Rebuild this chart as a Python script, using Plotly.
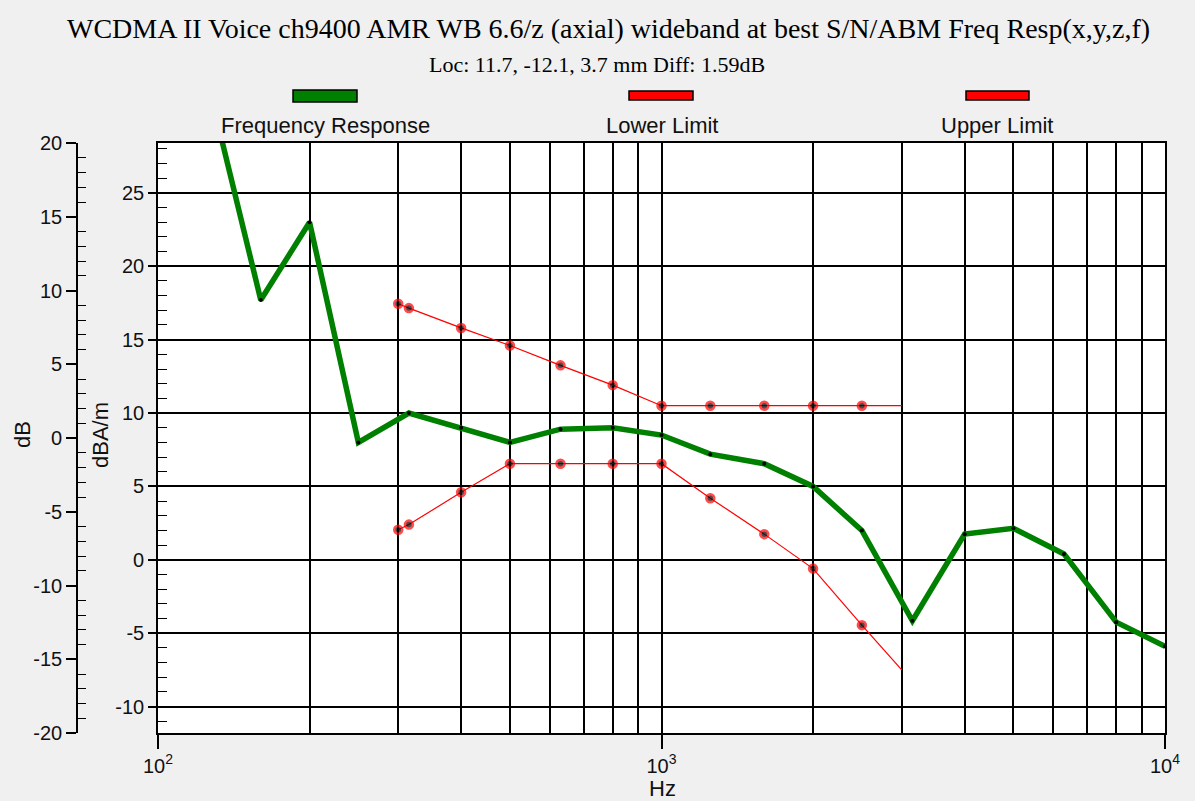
import plotly.graph_objects as go

# ---- data ----
freq_resp_hz = [125, 160, 200, 250, 315, 400, 500, 630, 800, 1000, 1250, 1600,
                2000, 2500, 3150, 4000, 5000, 6300, 8000, 10000]
freq_resp_db = [32.8, 17.7, 23.0, 8.0, 10.0, 9.0, 8.0, 8.9, 9.0, 8.5, 7.2, 6.55,
                5.0, 2.0, -4.15, 1.75, 2.15, 0.4, -4.25, -5.9]
limit_hz = [300, 315, 400, 500, 630, 800, 1000, 1250, 1600, 2000, 2500, 3000]
lower_db = [2.05, 2.4, 4.6, 6.55, 6.55, 6.55, 6.55, 4.2, 1.75, -0.6, -4.45, -7.5]
upper_db = [17.45, 17.15, 15.8, 14.6, 13.25, 11.9, 10.5, 10.5, 10.5, 10.5, 10.5, 10.5]

title_text = "WCDMA II Voice ch9400 AMR WB 6.6/z (axial) wideband at best S/N/ABM Freq Resp(x,y,z,f)"
subtitle_text = "Loc: 11.7, -12.1, 3.7 mm Diff: 1.59dB"
legend_names = ["Frequency Response", "Lower Limit", "Upper Limit"]
x_major = [100, 1000, 10000]
x_major_text = ["10<sup>2</sup>", "10<sup>3</sup>", "10<sup>4</sup>"]
x_minor = [m * d for d in (100, 1000) for m in range(2, 10)]
y_inner_ticks = [-10, -5, 0, 5, 10, 15, 20, 25]
y_outer_ticks = [-20, -15, -10, -5, 0, 5, 10, 15, 20]

# ---- geometry ----
W, H = 1195, 801
L, R, T, B = 70, 30, 143, 68
PW, PH = W - L - R, H - T - B


def px(x):
    return (x - L) / PW


def py(y):
    return (H - B - y) / PH


SANS = "Liberation Sans"
SERIF = "Liberation Serif"
TXT = "#111111"
tickfont = dict(family=SANS, size=20, color=TXT)

fig = go.Figure()

# limits
marker_sizes = [8] * (len(limit_hz) - 1) + [0]
for name, vals in ((legend_names[1], lower_db), (legend_names[2], upper_db)):
    fig.add_trace(go.Scatter(
        x=limit_hz, y=vals, mode="lines+markers", name=name,
        line=dict(color="#ff0000", width=1.2),
        marker=dict(size=marker_sizes, color="black", line=dict(color="#ff0000", width=2.5)),
        showlegend=False))

fig.add_trace(go.Scatter(
    x=freq_resp_hz, y=freq_resp_db, mode="lines+markers", name=legend_names[0],
    line=dict(color="#008000", width=5.5),
    marker=dict(size=4, color="black"),
    showlegend=False))

# dummy trace to keep the outer dB axis alive
fig.add_trace(go.Scatter(x=[None], y=[None], yaxis="y2", showlegend=False, hoverinfo="skip"))


def minor_vals(lo, hi):
    return [v for v in range(lo, hi + 1) if v % 5 != 0]


fig.update_layout(
    width=W, height=H,
    margin=dict(l=L, r=R, t=T, b=B),
    paper_bgcolor="#f0f0f0", plot_bgcolor="white",
    xaxis=dict(
        type="log", range=[2, 4], domain=[px(158), 1],
        tickmode="array", tickvals=x_major, ticktext=x_major_text,
        ticks="outside", ticklen=14, tickwidth=1.5, tickcolor="black",
        showgrid=True, gridcolor="black", gridwidth=1.6,
        minor=dict(tickmode="array", tickvals=x_minor, showgrid=True,
                   gridcolor="black", gridwidth=1.6, ticks=""),
        showline=True, linecolor="black", linewidth=1.6, mirror=True,
        tickfont=tickfont, automargin=False, zeroline=False,
    ),
    yaxis=dict(
        range=[-11.8, 28.4],
        tickmode="array", tickvals=y_inner_ticks, ticktext=[str(v) for v in y_inner_ticks],
        ticks="outside", ticklen=8, tickwidth=1.5, tickcolor="black",
        showgrid=True, gridcolor="black", gridwidth=1.6,
        minor=dict(tickmode="array", tickvals=minor_vals(-11, 28), ticks="inside", ticklen=9,
                   tickcolor="black", tickwidth=1.2, showgrid=False),
        showline=True, linecolor="black", linewidth=1.6, mirror=True,
        zeroline=False, tickfont=tickfont, automargin=False,
    ),
    yaxis2=dict(
        range=[-20, 20], overlaying="y", anchor="free",
        position=px(77), side="left",
        tickmode="array", tickvals=y_outer_ticks, ticktext=[str(v) for v in y_outer_ticks],
        ticks="outside", ticklen=10, tickwidth=1.5, tickcolor="black",
        showgrid=False, zeroline=False,
        minor=dict(tickmode="array", tickvals=minor_vals(-20, 20), ticks="inside", ticklen=8,
                   tickcolor="black", tickwidth=1.2, showgrid=False),
        showline=True, linecolor="black", linewidth=1.6,
        tickfont=tickfont, automargin=False,
    ),
)

annotations = [
    dict(text=title_text, x=px(608), y=py(29), font=dict(family=SERIF, size=28, color="black")),
    dict(text=subtitle_text, x=px(597), y=py(64), font=dict(family=SERIF, size=22, color="black")),
    dict(text="dB", x=px(22), y=py(435), textangle=-90, font=dict(family=SANS, size=22, color=TXT)),
    dict(text="dBA/m", x=px(100), y=py(435), textangle=-90, font=dict(family=SANS, size=22, color=TXT)),
    dict(text="Hz", x=px(662), y=py(788), font=dict(family=SANS, size=22, color=TXT)),
]
legend_cx = [325, 662, 997]
for name, cx in zip(legend_names, legend_cx):
    annotations.append(dict(text=name, x=px(cx), y=py(126),
                            font=dict(family=SANS, size=22, color=TXT)))
for a in annotations:
    a.update(xref="paper", yref="paper", showarrow=False, xanchor="center", yanchor="middle")
fig.update_layout(annotations=annotations)

swatches = [("#008000", 293, 357, 90, 102), ("#ff0000", 629, 693, 91, 100), ("#ff0000", 966, 1029, 91, 100)]
for color, x0, x1, y0, y1 in swatches:
    fig.add_shape(type="rect", xref="paper", yref="paper",
                  x0=px(x0), x1=px(x1), y0=py(y1), y1=py(y0),
                  fillcolor=color, line=dict(color="black", width=1.5))

fig.write_html("out.html", config={"displayModeBar": False},
               post_script="document.body.style.margin='0px';document.body.style.overflow='hidden';")
